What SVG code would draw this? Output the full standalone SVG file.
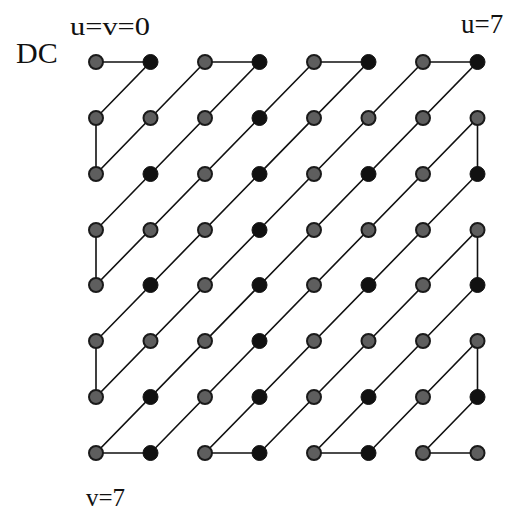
<svg xmlns="http://www.w3.org/2000/svg" width="514" height="513" viewBox="0 0 514 513">
  <style>
    .lbl { font-family: "Liberation Serif", "Times New Roman", serif; fill: #111; }
    .edge { fill: none; stroke: #111; stroke-width: 1.6; stroke-linejoin: miter; }
    .g { fill: #5e5e5e; stroke: #1a1a1a; stroke-width: 2; }
    .k { fill: #111; stroke: #111; stroke-width: 1; }
  </style>
  <rect width="514" height="513" fill="#fff"/>

  <!-- axis labels -->
  <text class="lbl" x="16" y="63" font-size="30">DC</text>
  <text class="lbl" x="70" y="35" font-size="26" textLength="80" lengthAdjust="spacingAndGlyphs">u=v=0</text>
  <text class="lbl" x="461" y="33" font-size="27">u=7</text>
  <text class="lbl" x="86" y="506" font-size="25">v=7</text>

  <!-- zigzag scan path -->
  <g id="connectors">
    <polyline class="edge" points="96,62 150.5,62 96,118 96,174 205,62 259.5,62 96,230 96,285 314,62 368.5,62 96,341 96,397 423,62 477.5,62 96,453 150.5,453 477.5,118 477.5,174 205,453 259.5,453 477.5,230 477.5,285 314,453 368.5,453 477.5,341 477.5,397 423,453 477.5,453"/>
  </g>

  <!-- coefficient nodes, row v = 0..7, column u = 0..7 -->
  <g id="row0">
    <g id="n0_0"><circle class="g" cx="96" cy="62" r="7"/></g>
    <g id="n1_0"><circle class="k" cx="150.5" cy="62" r="7.5"/></g>
    <g id="n2_0"><circle class="g" cx="205" cy="62" r="7"/></g>
    <g id="n3_0"><circle class="k" cx="259.5" cy="62" r="7.5"/></g>
    <g id="n4_0"><circle class="g" cx="314" cy="62" r="7"/></g>
    <g id="n5_0"><circle class="k" cx="368.5" cy="62" r="7.5"/></g>
    <g id="n6_0"><circle class="g" cx="423" cy="62" r="7"/></g>
    <g id="n7_0"><circle class="k" cx="477.5" cy="62" r="7.5"/></g>
  </g>
  <g id="row1">
    <g id="n0_1"><circle class="g" cx="96" cy="118" r="7"/></g>
    <g id="n1_1"><circle class="g" cx="150.5" cy="118" r="7"/></g>
    <g id="n2_1"><circle class="g" cx="205" cy="118" r="7"/></g>
    <g id="n3_1"><circle class="k" cx="259.5" cy="118" r="7.5"/></g>
    <g id="n4_1"><circle class="g" cx="314" cy="118" r="7"/></g>
    <g id="n5_1"><circle class="g" cx="368.5" cy="118" r="7"/></g>
    <g id="n6_1"><circle class="g" cx="423" cy="118" r="7"/></g>
    <g id="n7_1"><circle class="g" cx="477.5" cy="118" r="7"/></g>
  </g>
  <g id="row2">
    <g id="n0_2"><circle class="g" cx="96" cy="174" r="7"/></g>
    <g id="n1_2"><circle class="k" cx="150.5" cy="174" r="7.5"/></g>
    <g id="n2_2"><circle class="g" cx="205" cy="174" r="7"/></g>
    <g id="n3_2"><circle class="k" cx="259.5" cy="174" r="7.5"/></g>
    <g id="n4_2"><circle class="g" cx="314" cy="174" r="7"/></g>
    <g id="n5_2"><circle class="k" cx="368.5" cy="174" r="7.5"/></g>
    <g id="n6_2"><circle class="g" cx="423" cy="174" r="7"/></g>
    <g id="n7_2"><circle class="k" cx="477.5" cy="174" r="7.5"/></g>
  </g>
  <g id="row3">
    <g id="n0_3"><circle class="g" cx="96" cy="230" r="7"/></g>
    <g id="n1_3"><circle class="g" cx="150.5" cy="230" r="7"/></g>
    <g id="n2_3"><circle class="g" cx="205" cy="230" r="7"/></g>
    <g id="n3_3"><circle class="k" cx="259.5" cy="230" r="7.5"/></g>
    <g id="n4_3"><circle class="g" cx="314" cy="230" r="7"/></g>
    <g id="n5_3"><circle class="g" cx="368.5" cy="230" r="7"/></g>
    <g id="n6_3"><circle class="g" cx="423" cy="230" r="7"/></g>
    <g id="n7_3"><circle class="g" cx="477.5" cy="230" r="7"/></g>
  </g>
  <g id="row4">
    <g id="n0_4"><circle class="g" cx="96" cy="285" r="7"/></g>
    <g id="n1_4"><circle class="k" cx="150.5" cy="285" r="7.5"/></g>
    <g id="n2_4"><circle class="g" cx="205" cy="285" r="7"/></g>
    <g id="n3_4"><circle class="k" cx="259.5" cy="285" r="7.5"/></g>
    <g id="n4_4"><circle class="g" cx="314" cy="285" r="7"/></g>
    <g id="n5_4"><circle class="k" cx="368.5" cy="285" r="7.5"/></g>
    <g id="n6_4"><circle class="g" cx="423" cy="285" r="7"/></g>
    <g id="n7_4"><circle class="k" cx="477.5" cy="285" r="7.5"/></g>
  </g>
  <g id="row5">
    <g id="n0_5"><circle class="g" cx="96" cy="341" r="7"/></g>
    <g id="n1_5"><circle class="g" cx="150.5" cy="341" r="7"/></g>
    <g id="n2_5"><circle class="g" cx="205" cy="341" r="7"/></g>
    <g id="n3_5"><circle class="k" cx="259.5" cy="341" r="7.5"/></g>
    <g id="n4_5"><circle class="g" cx="314" cy="341" r="7"/></g>
    <g id="n5_5"><circle class="g" cx="368.5" cy="341" r="7"/></g>
    <g id="n6_5"><circle class="g" cx="423" cy="341" r="7"/></g>
    <g id="n7_5"><circle class="g" cx="477.5" cy="341" r="7"/></g>
  </g>
  <g id="row6">
    <g id="n0_6"><circle class="g" cx="96" cy="397" r="7"/></g>
    <g id="n1_6"><circle class="k" cx="150.5" cy="397" r="7.5"/></g>
    <g id="n2_6"><circle class="g" cx="205" cy="397" r="7"/></g>
    <g id="n3_6"><circle class="k" cx="259.5" cy="397" r="7.5"/></g>
    <g id="n4_6"><circle class="g" cx="314" cy="397" r="7"/></g>
    <g id="n5_6"><circle class="k" cx="368.5" cy="397" r="7.5"/></g>
    <g id="n6_6"><circle class="g" cx="423" cy="397" r="7"/></g>
    <g id="n7_6"><circle class="k" cx="477.5" cy="397" r="7.5"/></g>
  </g>
  <g id="row7">
    <g id="n0_7"><circle class="g" cx="96" cy="453" r="7"/></g>
    <g id="n1_7"><circle class="k" cx="150.5" cy="453" r="7.5"/></g>
    <g id="n2_7"><circle class="g" cx="205" cy="453" r="7"/></g>
    <g id="n3_7"><circle class="k" cx="259.5" cy="453" r="7.5"/></g>
    <g id="n4_7"><circle class="g" cx="314" cy="453" r="7"/></g>
    <g id="n5_7"><circle class="k" cx="368.5" cy="453" r="7.5"/></g>
    <g id="n6_7"><circle class="g" cx="423" cy="453" r="7"/></g>
    <g id="n7_7"><circle class="g" cx="477.5" cy="453" r="7"/></g>
  </g>
</svg>
